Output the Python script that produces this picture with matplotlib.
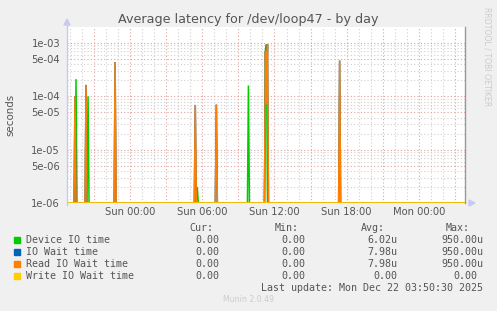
import numpy as np
import matplotlib
matplotlib.use("Agg")
import matplotlib.pyplot as plt
from matplotlib.patches import Polygon
from matplotlib.lines import Line2D

# ---------------- data ----------------
# time axis: hours relative to Sun 00:00, 5-minute samples
t_start = -5.25
t_end = 27.84
step = 5.0 / 60.0

device_spike_t = [-4.5, -3.5, 5.583, 9.833, 11.25, 11.333]
device_spike_v = [2.1e-4, 1.0e-4, 2.0e-6, 1.6e-4, 7.5e-4, 9.5e-4]

iowait_spike_t = [-4.583, -3.667, -1.25, 5.417, 7.167, 11.25, 11.333, 11.417, 17.417]
iowait_spike_v = [1.0e-4, 1.64e-4, 4.4e-4, 6.9e-5, 7.0e-5, 7.0e-4, 7.0e-5, 9.5e-4, 4.7e-4]

read_spike_t = iowait_spike_t
read_spike_v = iowait_spike_v

write_spike_t = []
write_spike_v = []

series_names = ["Device IO time", "IO Wait time", "Read IO Wait time", "Write IO Wait time"]
series_colors = ["#00cc00", "#0066b3", "#ff8000", "#ffcc00"]
cur_vals = ["0.00", "0.00", "0.00", "0.00"]
min_vals = ["0.00", "0.00", "0.00", "0.00"]
avg_vals = ["6.02u", "7.98u", "7.98u", "0.00"]
max_vals = ["950.00u", "950.00u", "950.00u", "0.00"]

xtick_pos = [0, 6, 12, 18, 24]
xtick_labels = ["Sun 00:00", "Sun 06:00", "Sun 12:00", "Sun 18:00", "Mon 00:00"]
ytick_pos = [1e-6, 5e-6, 1e-5, 5e-5, 1e-4, 5e-4, 1e-3]
ytick_labels = ["1e-06", "5e-06", "1e-05", "5e-05", "1e-04", "5e-04", "1e-03"]

title = "Average latency for /dev/loop47 - by day"
last_update = "Last update: Mon Dec 22 03:50:30 2025"

# ---------------- build series ----------------
t = np.arange(t_start, t_end, step)
ymin, ymax = 1e-6, 2.0e-3


def build(spt, spv):
    v = np.zeros_like(t)
    for ts, vs in zip(spt, spv):
        i = int(round((ts - t_start) / step))
        v[i] = max(v[i], vs)
    return np.maximum(v, ymin)


series = [build(device_spike_t, device_spike_v),
          build(iowait_spike_t, iowait_spike_v),
          build(read_spike_t, read_spike_v),
          build(write_spike_t, write_spike_v)]

# ---------------- figure ----------------
W, H = 497, 311
fig = plt.figure(figsize=(W / 100, H / 100), dpi=100, facecolor="#f0f0f0")

L, R, T, B = 67, 465, 27, 203
ax = fig.add_axes([L / W, (H - B) / H, (R - L) / W, (B - T) / H])
ax.set_facecolor("white")
ax.set_yscale("log")
ax.set_xlim(t_start, t_end)
ax.set_ylim(ymin, ymax)

# grid
minor_c = "#d0d0d0"
major_c = "#eaa0a0"
for h in np.arange(-5, 28, 1):
    if h % 3 != 0:
        ax.axvline(h, color=minor_c, lw=0.8, ls=(0, (1, 2)), zorder=1)
for h in np.arange(-3, 28, 3):
    ax.axvline(h, color=major_c, lw=0.8, ls=(0, (1, 2)), zorder=1.5)
for d in [1e-6, 1e-5, 1e-4, 1e-3]:
    for m in [2, 3, 4, 6, 7, 8, 9]:
        if d * m < ymax:
            ax.axhline(d * m, color=minor_c, lw=0.8, ls=(0, (1, 2)), zorder=1)
for yv in ytick_pos:
    ax.axhline(yv, color=major_c, lw=0.8, ls=(0, (1, 2)), zorder=1.5)

for v, c in zip(series, series_colors):
    ax.plot(t, v, color=c, lw=1.1, zorder=3, clip_on=True, solid_joinstyle="miter")

ax.set_xticks(xtick_pos)
ax.set_xticklabels(xtick_labels)
ax.set_yticks(ytick_pos)
ax.set_yticklabels(ytick_labels)
ax.yaxis.set_minor_locator(matplotlib.ticker.NullLocator())
ax.tick_params(axis="both", length=0, labelsize=7.2, colors="#555555")
ax.tick_params(axis="y", pad=5)
ax.tick_params(axis="x", pad=3)

for s in ["top", "bottom", "left"]:
    ax.spines[s].set_visible(False)
ax.spines["right"].set_color("#999999")
ax.spines["right"].set_linewidth(1.0)

ax.set_ylabel("seconds", fontsize=7.4, color="#555555")
ax.yaxis.set_label_coords((15 - L) / (R - L), (B - 115) / (B - T))

# axis lines and arrows (figure pixel coords)
def fx(x):
    return x / W


def fy(y):
    return 1 - y / H


axc = "#c8c8f0"
fig.add_artist(Line2D([fx(L), fx(L)], [fy(B + 2), fy(22)], color=axc, lw=1.0))
fig.add_artist(Polygon([[fx(L - 3), fy(25)], [fx(L + 3), fy(25)], [fx(L), fy(19)]],
                       closed=True, color=axc, transform=fig.transFigure))
fig.add_artist(Polygon([[fx(469), fy(B - 3)], [fx(469), fy(B + 3)], [fx(475), fy(B)]],
                       closed=True, color=axc, transform=fig.transFigure))

fig.text(fx(248), fy(19), title, ha="center", va="center", fontsize=9.2, color="#555555")
fig.text(fx(487), fy(57), "RRDTOOL / TOBI OETIKER", rotation=270, ha="center", va="center",
         fontsize=5.6, color="#cccccc")

# legend
mono = "DejaVu Sans Mono"
fs = 7.2
tc = "#555555"
head_y = 228
for txt, xr in zip(["Cur:", "Min:", "Avg:", "Max:"], [213, 299, 385, 470]):
    fig.text(fx(xr), fy(head_y), txt, ha="right", va="center", family=mono, fontsize=fs, color=tc)
rows_y = [240, 252, 264, 276]
for i, ry in enumerate(rows_y):
    fig.add_artist(Polygon([[fx(14), fy(ry - 3)], [fx(20), fy(ry - 3)], [fx(20), fy(ry + 3)], [fx(14), fy(ry + 3)]],
                           closed=True, color=series_colors[i], transform=fig.transFigure))
    fig.text(fx(26), fy(ry), series_names[i], ha="left", va="center", family=mono, fontsize=fs, color=tc)
    fig.text(fx(219), fy(ry), cur_vals[i], ha="right", va="center", family=mono, fontsize=fs, color=tc)
    fig.text(fx(305), fy(ry), min_vals[i], ha="right", va="center", family=mono, fontsize=fs, color=tc)
    fig.text(fx(397), fy(ry), avg_vals[i], ha="right", va="center", family=mono, fontsize=fs, color=tc)
    xr = 483 if max_vals[i].endswith("u") else 477
    fig.text(fx(xr), fy(ry), max_vals[i], ha="right", va="center", family=mono, fontsize=fs, color=tc)
fig.text(fx(483), fy(288), last_update, ha="right", va="center", family=mono, fontsize=fs, color=tc)
fig.text(fx(249), fy(300), "Munin 2.0.49", ha="center", va="center", fontsize=5.6, color="#cccccc")

fig.savefig("out.png", dpi=100, facecolor=fig.get_facecolor())
